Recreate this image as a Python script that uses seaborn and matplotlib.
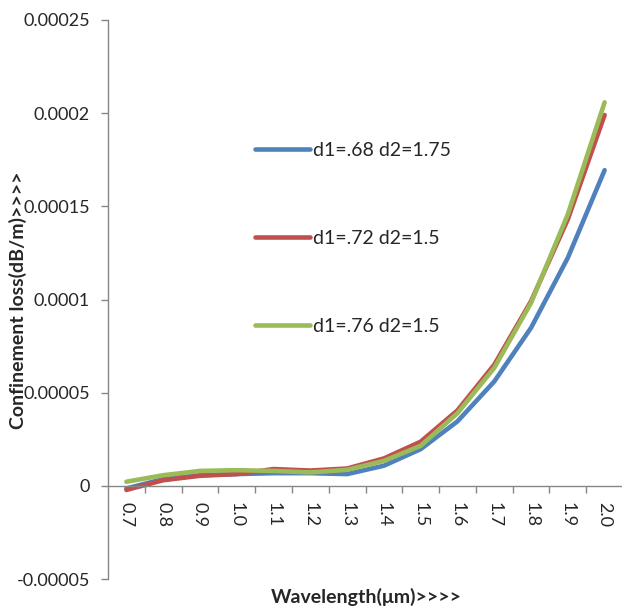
import numpy as np
import pandas as pd
import matplotlib
matplotlib.use("Agg")
import matplotlib.pyplot as plt
import seaborn as sns
from matplotlib.ticker import FixedLocator, FixedFormatter

wavelengths = ["0.7", "0.8", "0.9", "1.0", "1.1", "1.2", "1.3",
               "1.4", "1.5", "1.6", "1.7", "1.8", "1.9", "2.0"]
series_names = ["d1=.68 d2=1.75", "d1=.72 d2=1.5", "d1=.76 d2=1.5"]
loss_a = [-1.4e-6, 3.6e-6, 5.7e-6, 6.3e-6, 6.8e-6, 6.8e-6, 6.3e-6,
          10.8e-6, 19.7e-6, 34.6e-6, 56.0e-6, 84.8e-6, 122.4e-6, 169.4e-6]
loss_b = [-2.2e-6, 3.0e-6, 5.4e-6, 6.3e-6, 9.0e-6, 8.2e-6, 9.3e-6,
          14.7e-6, 23.7e-6, 40.5e-6, 65.0e-6, 99.1e-6, 143.0e-6, 199.0e-6]
loss_c = [2.2e-6, 5.7e-6, 8.0e-6, 8.4e-6, 8.0e-6, 7.2e-6, 8.6e-6,
          13.4e-6, 21.5e-6, 39.0e-6, 63.3e-6, 98.2e-6, 145.7e-6, 205.8e-6]
y_ticks = [-0.00005, 0, 0.00005, 0.0001, 0.00015, 0.0002, 0.00025]
y_tick_labels = ["-0.00005", "0", "0.00005", "0.0001", "0.00015", "0.0002", "0.00025"]

pos = np.arange(len(wavelengths))
df = pd.DataFrame({
    "pos": np.tile(pos, 3),
    "loss": loss_a + loss_b + loss_c,
    "series": np.repeat(series_names, len(wavelengths)),
})

sns.set_style("white")
plt.rcParams["font.family"] = ["Lato", "DejaVu Sans"]

fig = plt.figure(figsize=(6.22, 6.07), dpi=100)
ax = fig.add_axes([108 / 622, 28 / 607, 515 / 622, 559 / 607])

palette = ["#4F81BD", "#C0504D", "#9BBB59"]
sns.lineplot(data=df, x="pos", y="loss", hue="series", palette=palette,
             linewidth=3.3, ax=ax, legend=True)

ax.set_xlim(-0.5, len(wavelengths) - 0.5)
ax.set_ylim(-0.00005, 0.00025)
ax.set_xlabel("")
ax.set_ylabel("")

# y axis
gray = "#868686"
ax.yaxis.set_major_locator(FixedLocator(y_ticks))
ax.yaxis.set_major_formatter(FixedFormatter(y_tick_labels))
ax.tick_params(axis="y", direction="out", length=5, width=1, color=gray,
               pad=8, labelsize=13, left=True)

# x axis sits on y=0, ticks between categories
ax.spines["bottom"].set_position(("data", 0))
ax.set_xticks(pos + 0.5, minor=False)
ax.set_xticklabels([""] * len(pos))
ax.set_xticks(pos, minor=True)
ax.set_xticklabels(wavelengths, minor=True, rotation=-90)
ax.tick_params(axis="x", which="major", direction="out", length=5, width=1,
               color=gray, bottom=True)
ax.tick_params(axis="x", which="minor", length=0, pad=11.5, labelsize=13)

for s in ["top", "right"]:
    ax.spines[s].set_visible(False)
for s in ["left", "bottom"]:
    ax.spines[s].set_color(gray)
    ax.spines[s].set_linewidth(1)

leg = ax.legend(loc="upper left", bbox_to_anchor=(255 / 622, 1 - 142 / 607),
                bbox_transform=fig.transFigure, frameon=False, borderpad=0,
                borderaxespad=0, labelspacing=3.65, handlelength=2.85,
                handletextpad=0.15, fontsize=14)
for line in leg.get_lines():
    line.set_linewidth(3.3)
    line.set_solid_capstyle("round")

fig.text(366 / 622, 1 - 597 / 607, "Wavelength(μm)>>>>", ha="center",
         va="center", fontsize=14, fontweight="bold")
fig.text(18 / 622, 1 - 300 / 607, "Confinement loss(dB/m)>>>>", ha="center",
         va="center", rotation=90, fontsize=14, fontweight="bold")

fig.savefig("out.png", dpi=100)
